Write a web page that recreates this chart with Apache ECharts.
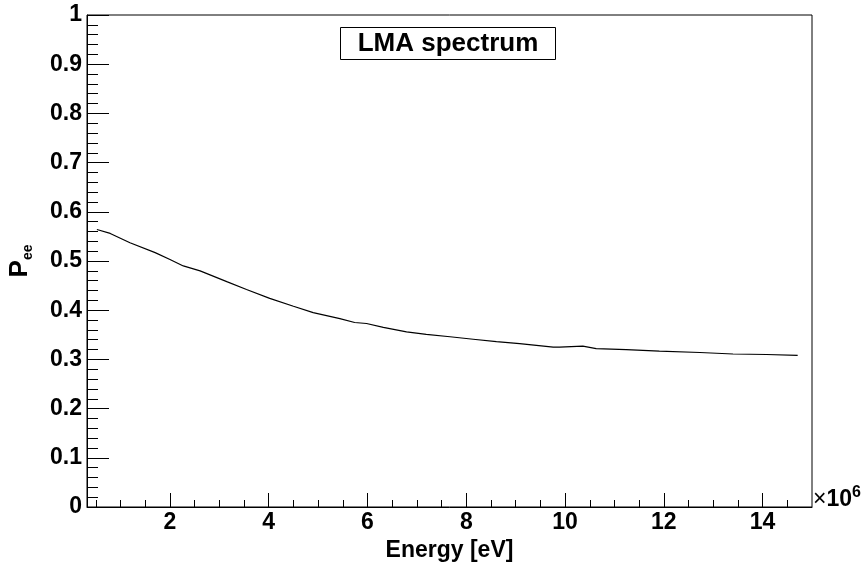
<!DOCTYPE html>
<html>
<head>
<meta charset="utf-8">
<script src="https://cdn.jsdelivr.net/npm/echarts@6/dist/echarts.min.js"></script>
<style>
html,body{margin:0;padding:0;background:#fff;}
#chart{width:864px;height:563px;}
</style>
</head>
<body>
<div id="chart"></div>
<script>
// Energy in units of 10^6 eV
var energyMeV = [0.52, 0.79, 1.19, 1.70, 2.00, 2.27, 2.61, 3.15, 3.55, 4.02, 4.50, 4.90, 5.44, 5.74, 5.98, 6.32, 6.79, 7.19, 7.67, 8.14, 8.61, 9.08, 9.76, 9.89, 10.36, 10.63, 11.24, 11.91, 12.73, 13.40, 14.08, 14.71];
var pee = [0.564, 0.556, 0.537, 0.517, 0.503, 0.490, 0.480, 0.458, 0.442, 0.424, 0.408, 0.395, 0.383, 0.375, 0.373, 0.365, 0.356, 0.351, 0.346, 0.341, 0.336, 0.332, 0.325, 0.325, 0.327, 0.322, 0.320, 0.317, 0.314, 0.311, 0.310, 0.308];
var xMajorTicks = [2, 4, 6, 8, 10, 12, 14];
var xMinorTicks = [0.5, 1, 1.5, 2.5, 3, 3.5, 4.5, 5, 5.5, 6.5, 7, 7.5, 8.5, 9, 9.5, 10.5, 11, 11.5, 12.5, 13, 13.5, 14.5];
var titleText = 'LMA spectrum';
var xTitle = 'Energy [eV]';

var FONT = 'Liberation Sans';
var chart = echarts.init(document.getElementById('chart'), null, {renderer: 'canvas'});
var pts = energyMeV.map(function (e, i) { return [e, pee[i]]; });

chart.setOption({
  animation: false,
  backgroundColor: '#fff',
  grid: {left: 87, right: 52, top: 15, bottom: 56, show: true, borderColor: '#000', borderWidth: 1, backgroundColor: 'transparent', containLabel: false, outerBoundsMode: 'none'},
  xAxis: [{
    type: 'value', min: 0.32, max: 15, position: 'bottom',
    name: xTitle, nameLocation: 'middle', nameGap: 25,
    nameTextStyle: {fontFamily: FONT, fontWeight: 'bold', fontSize: 23, color: '#000'},
    axisLine: {show: true, lineStyle: {color: '#000', width: 1}},
    axisTick: {show: true, inside: true, length: 14, customValues: xMajorTicks, lineStyle: {color: '#000'}},
    axisLabel: {show: true, customValues: xMajorTicks, margin: 4, fontFamily: FONT, fontWeight: 'bold', fontSize: 23, color: '#000'},
    splitLine: {show: false}
  }, {
    type: 'value', min: 0.32, max: 15, position: 'bottom',
    axisLine: {show: false},
    axisTick: {show: true, inside: true, length: 7, customValues: xMinorTicks, lineStyle: {color: '#000'}},
    axisLabel: {show: false},
    splitLine: {show: false}
  }],
  yAxis: {
    type: 'value', min: 0, max: 1, interval: 0.1,
    name: '{p|P}{s|ee}', nameLocation: 'middle', nameGap: 52, nameRotate: 90,
    nameTextStyle: {
      color: '#000',
      rich: {
        p: {fontFamily: FONT, fontWeight: 'bold', fontSize: 26, lineHeight: 30, color: '#000', verticalAlign: 'middle'},
        s: {fontFamily: FONT, fontWeight: 'bold', fontSize: 14, lineHeight: 14, color: '#000', verticalAlign: 'bottom'}
      }
    },
    axisLine: {show: true, lineStyle: {color: '#000', width: 1}},
    axisTick: {show: true, inside: true, length: 22, lineStyle: {color: '#000'}},
    minorTick: {show: true, splitNumber: 5, length: 11, lineStyle: {color: '#000'}},
    axisLabel: {margin: 5, fontFamily: FONT, fontWeight: 'bold', fontSize: 23, color: '#000'},
    splitLine: {show: false}
  },
  series: [{
    type: 'line', data: pts, xAxisIndex: 0, showSymbol: false, symbol: 'none',
    lineStyle: {color: '#000', width: 1.2}, smooth: false
  }],
  graphic: [
    {type: 'rect', shape: {x: 340.5, y: 27.5, width: 215, height: 32}, style: {fill: '#fff', stroke: '#000', lineWidth: 1}, z: 10},
    {type: 'text', x: 448, y: 43.5, style: {text: titleText, fontFamily: FONT, fontWeight: 'bold', fontSize: 26, fill: '#000', align: 'center', verticalAlign: 'middle'}, z: 11},
    {type: 'text', x: 813, y: 498, style: {text: '{x|×}{a|10}{b|6}', align: 'left', verticalAlign: 'middle',
      rich: {x: {fontFamily: FONT, fontWeight: 'normal', fontSize: 23, fill: '#000', lineHeight: 26, verticalAlign: 'bottom'},
             a: {fontFamily: FONT, fontWeight: 'bold', fontSize: 23, fill: '#000', lineHeight: 26, verticalAlign: 'bottom'},
             b: {fontFamily: FONT, fontWeight: 'bold', fontSize: 16, fill: '#000', lineHeight: 16, verticalAlign: 'top'}}}, z: 11}
  ]
});
</script>
</body>
</html>
